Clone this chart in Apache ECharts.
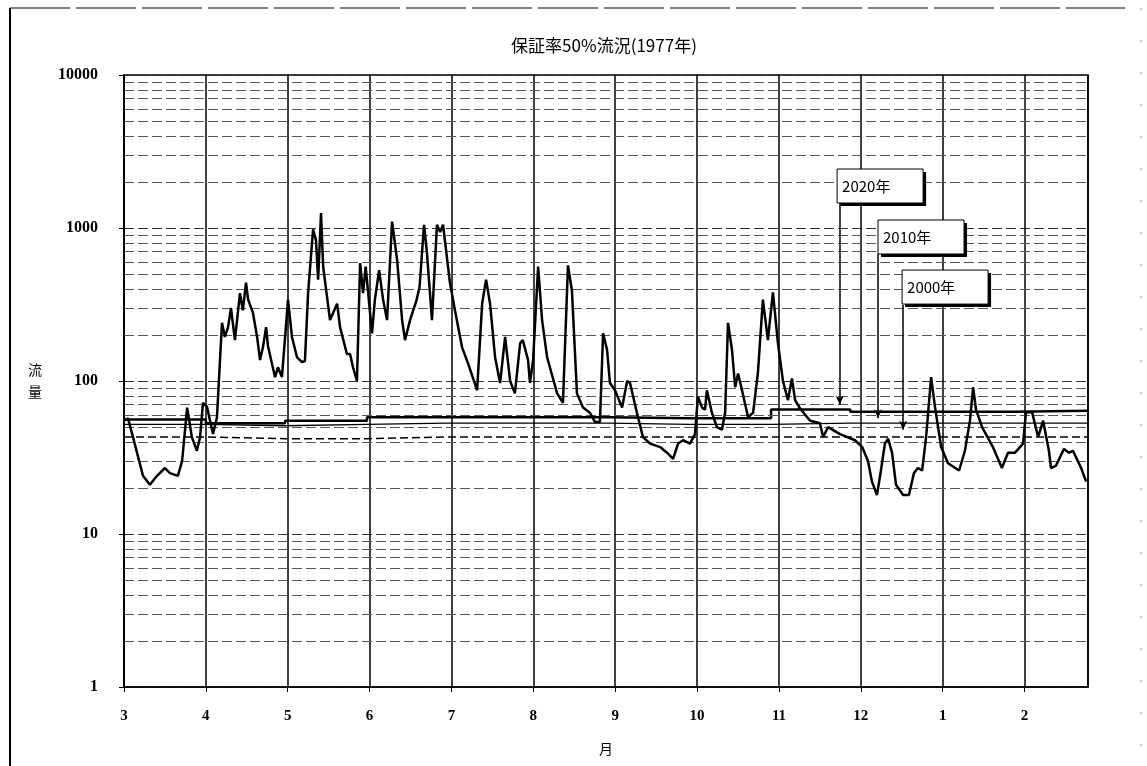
<!DOCTYPE html>
<html><head><meta charset="utf-8">
<script src="https://cdn.jsdelivr.net/npm/echarts@6/dist/echarts.min.js"></script>
<style>html,body{margin:0;padding:0;background:#fff}#c{width:1147px;height:766px}</style>
</head><body><div id="c"></div>
<script>
// ---- data ----
const monthLabels = ['3','4','5','6','7','8','9','10','11','12','1','2'];
// day index counted from 1 March, daily flow (m3/s)
const flowDay = [0,1.5,3.4,7.2,9.8,12.5,15.5,17.4,20.4,22,23.9,25.7,27.6,28.8,29.9,31.4,33.7,35.2,37.1,38.2,39.4,40.5,42,43.9,45,46.2,47,48.8,50.4,51.5,52.6,53.8,54.5,56,57.2,58.3,59.8,61,62.1,63.6,65.5,67.4,68.5,69.7,71.6,72.7,73.5,74.6,75.4,78,80.7,81.8,84.4,85.6,86.7,88.2,89.4,90.5,91.5,93.9,95,96.6,98.1,99.6,101.5,103.4,105.3,106.4,108.3,110.6,111.9,113.6,114.7,116.6,118.5,119.7,120.8,123.4,125.3,128,130.3,133.7,135.6,137.1,138.6,140.5,142.4,144.3,146.2,148,150,151,153,153.7,154.9,156.8,158.3,160.2,164,166.2,168.1,169.6,171.5,173.8,176.4,178.3,180.2,181.4,182.9,184,185.9,188.6,190.5,191.6,194.2,196.5,199.2,203,205.6,207.9,209.8,211.7,214.3,216.2,217.3,218.9,220,220.7,222.6,224.5,226.4,227.6,228.7,230.2,231.4,232.5,234,236.3,238.2,240,241.9,243.8,245.7,247.6,249.5,251.4,252.9,254.1,256,259.8,263.5,264.7,266.6,271.1,276.8,279.5,281.7,283.2,285.1,286.6,288.1,289.3,290.8,292.3,295,297.2,299.1,300.6,302.2,303.7,305.6,307.1,309.4,312,316.2,318.4,320.3,321.5,322.6,324.9,329,332.4,334.7,337.4,340.4,341.5,343.8,346.1,348,350.2,351,352.9,355.9,357.8,359.3,362.4,364.3];
const flowQ = [55,57,43,24,21,24,27,25,24,30,67,43,35,43,72,68,45,58,240,194,225,300,185,375,290,440,340,280,194,137,166,225,170,130,106,123,106,194,340,194,143,133,135,375,980,830,460,1250,560,250,320,225,150,150,123,100,590,375,560,205,340,530,340,250,1100,620,250,185,250,330,410,1050,690,250,1050,940,1050,440,290,166,130,87,320,460,320,143,97,194,100,83,177,185,137,97,137,560,250,143,83,72,570,390,83,67,62,54,54,205,160,97,87,67,100,97,62,43,39,37,34,31,39,41,39,45,79,67,65,87,62,50,48,62,240,160,91,112,87,58,62,112,340,185,380,177,100,75,104,75,66,55,53,43,50,45,41,37,30,22,18,26,39,42,34,21,18,18,25,27,26,43,106,67,37,29,26,35,55,91,65,50,37,27,34,34,39,62,63,43,55,35,27,28,36,34,35,27,22];
// demand lines (step at each calendar month start)
const stepDay = [0,31,61,92,122,153,184,214,245,275,306,337,365];
const demand2020 = [56,53,55,58,58,58,57,57,65,63,63,64,64];
const demand2010 = [52,51,52,53,53,53,52,52,53,53,53,53,53];
const demand2000 = [43,42,42,43,43,43,43,43,43,43,43,43,43];
const annoLabels = ['2020年','2010年','2000年'];
const annoDay = [271, 285.5, 295];
const annoTip = [70, 57, 48];

// ---- chart ----
const SERIF = '"Liberation Serif","Noto Sans CJK JP",serif';
const CJK = '"Noto Sans CJK JP","Liberation Serif",serif';
const chart = echarts.init(document.getElementById('c'), null, {renderer:'canvas'});

const minorVals = [];
[1,10,100,1000].forEach(d => { for (let m = 2; m <= 9; m++) minorVals.push(m*d); });

const arrowTop = [1457, 676, 314];
function arrowLine(i){
  return {
    silent:true, symbol:['none','arrow'], symbolSize:[6,9],
    label:{show:false},
    lineStyle:{color:'#000', width:1.5, type:'solid'},
    data:[[{coord:[annoDay[i], arrowTop[i]]},{coord:[annoDay[i], annoTip[i]]}]]
  };
}

const option = {
  animation:false,
  backgroundColor:'#fff',
  title:{text:'保証率50%流況(1977年)', left:599, top:32, textAlign:'center',
    textStyle:{fontFamily:CJK, fontSize:17, fontWeight:'normal', color:'#000'}},
  grid:{left:124, top:75, right:59, bottom:79, show:true, borderColor:'#000', borderWidth:1.5, backgroundColor:'transparent'},
  xAxis:{type:'value', min:0, max:365, interval:31,
    name:'月', nameLocation:'middle', nameGap:55,
    nameTextStyle:{fontFamily:CJK, fontSize:14, color:'#000'},
    axisLine:{show:true, lineStyle:{color:'#000', width:1.5}},
    axisTick:{show:true, length:5, lineStyle:{color:'#000'}},
    axisLabel:{margin:22, fontFamily:SERIF, fontSize:15, fontWeight:'bold', color:'#000', showMaxLabel:false,
      formatter:v => (v % 31 === 0 && v/31 < 12) ? monthLabels[v/31] : ''},
    splitLine:{show:true, lineStyle:{color:'#000', width:1.5}}
  },
  yAxis:{type:'log', logBase:10, min:1, max:10000,
    name:'流\n量', nameLocation:'middle', nameRotate:0, nameGap:82,
    nameTextStyle:{fontFamily:CJK, fontSize:14, color:'#000', lineHeight:22},
    axisLine:{show:true, lineStyle:{color:'#000', width:2}},
    axisTick:{show:true, length:5, lineStyle:{color:'#000'}},
    axisLabel:{margin:26, fontFamily:SERIF, fontSize:16, fontWeight:'bold', color:'#000',
      formatter:v => String(Math.round(v))},
    splitLine:{show:true, lineStyle:{color:'#333', width:1, type:[10,4]}}
  },
  series:[
    {type:'line', name:'grid', data:[], silent:true,
      markLine:{silent:true, symbol:['none','none'], label:{show:false},
        lineStyle:{color:'#555', width:1, type:[10,4]},
        data:minorVals.map(v => ({yAxis:v}))}},
    {type:'line', name:'2000年', step:'end', symbol:'none', data:stepDay.map((d,i)=>[d,demand2000[i]]),
      lineStyle:{color:'#000', width:1.5, type:[8,4]}, markLine:arrowLine(2)},
    {type:'line', name:'2010年', step:'end', symbol:'none', data:stepDay.map((d,i)=>[d,demand2010[i]]),
      lineStyle:{color:'#000', width:1.3}, markLine:arrowLine(1)},
    {type:'line', name:'2020年', step:'end', symbol:'none', data:stepDay.map((d,i)=>[d,demand2020[i]]),
      lineStyle:{color:'#000', width:2.5}, markLine:arrowLine(0)},
    {type:'line', name:'流量', symbol:'none', data:flowDay.map((d,i)=>[d,flowQ[i]]),
      lineStyle:{color:'#000', width:2.5}, z:5}
  ]
};
chart.setOption(option);

// annotation boxes anchored to data coordinates (top-left corner)
const boxAnchor = [[270, 2430],[285.5, 1128],[294.6, 531]];
const g = [
  {type:'line', shape:{x1:10, y1:8, x2:10, y2:770}, style:{stroke:'#000', lineWidth:2}},
  {type:'line', shape:{x1:10, y1:8, x2:1125, y2:8}, style:{stroke:'#000', lineWidth:1, lineDash:[60,6]}},
  {type:'line', shape:{x1:1141, y1:8, x2:1141, y2:770}, style:{stroke:'#999', lineWidth:1, lineDash:[2,30]}}
];
annoLabels.forEach((t,i) => {
  const p = chart.convertToPixel({gridIndex:0}, boxAnchor[i]);
  g.push({type:'rect', z:100, shape:{x:p[0]+3, y:p[1]+3, width:86, height:34}, style:{fill:'#000'}});
  g.push({type:'rect', z:101, shape:{x:p[0], y:p[1], width:86, height:34}, style:{fill:'#fff', stroke:'#000', lineWidth:1}});
  g.push({type:'text', z:102, x:p[0]+5, y:p[1]+17, style:{text:t, fontFamily:CJK, fontSize:15, fill:'#000', verticalAlign:'middle'}});
});
chart.setOption({graphic:g});
</script></body></html>
